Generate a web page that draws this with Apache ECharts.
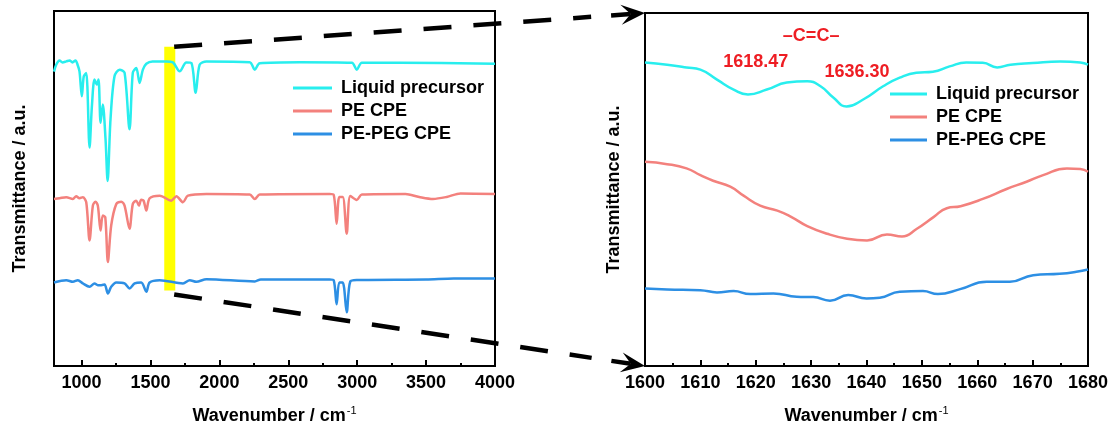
<!DOCTYPE html>
<html>
<head>
<meta charset="utf-8">
<script src="https://cdn.jsdelivr.net/npm/echarts@6/dist/echarts.min.js"></script>
<style>
html,body{margin:0;padding:0;background:#fff;}
#chart{width:1113px;height:430px;}
</style>
</head>
<body>
<div id="chart"></div>
<script>
// ---------- DATA ----------
const seriesNames = ['Liquid precursor', 'PE CPE', 'PE-PEG CPE'];

// Left panel (full spectrum), offset transmittance (a.u.)
const leftCyanX = [800,816,840,862,889,913,934,956,971,985,1002,1016,1034,1058,1075,1094,1111,1123,1138,1154,1174,1189,1210,1239,1276,1312,1348,1372,1397,1421,1445,1470,1515,1615,1663,1712,1760,1797,1828,1857,1906,2220,2257,2293,2584,2961,2997,3034,3310,4000];
const leftCyanY = [296,303,307.3,305.3,306.3,307.3,305.3,307.3,303,296.3,271.3,291.3,294.7,219.7,261.3,288,283,288,244.7,263,228,186,248,291.3,298,295,238,295,299.7,284.7,298,304,306.3,306.3,305.3,296.3,305.3,304.7,274.7,303,306.3,305.5,298,304.5,305.5,305,298,305,305,304];

const leftRedX = [800,840,889,937,961,985,1009,1034,1058,1082,1101,1118,1138,1154,1172,1191,1215,1252,1288,1312,1348,1372,1397,1416,1433,1450,1470,1494,1567,1651,1688,1736,1772,1906,2220,2257,2293,2800,2830,2851,2870,2895,2924,2950,2997,3034,3350,3450,3550,3650,3750,4000];
const leftRedY = [168,168.7,169.7,168,170.7,168.7,169.7,164.7,126.3,161.3,165.3,161.3,136.3,151.3,149.7,104.7,141.3,163,165.3,161.3,138,163,166.3,161.3,167.3,166.3,156.3,168.7,171.3,166.3,170.7,164.7,171.3,173,172.5,168,172.5,173,172,143,170,170,133,171,167,172.5,173,170,168,170,173.5,173];

const leftBlueX = [800,889,937,973,1009,1058,1094,1118,1143,1167,1191,1215,1252,1312,1348,1385,1433,1470,1494,1567,1736,1785,1833,1906,2257,2300,2800,2830,2851,2870,2895,2924,2950,3000,3500,3700,4000];
const leftBlueY = [84,86.3,84.7,86.3,83,79.7,83,81.3,81.3,82,73,79.7,84,83,78,83,84,74.7,84,86.3,83,86.3,84.7,87.3,85,87,87,86,62,84,84,54,85,86.5,87,88,88];

// Zoomed region (highlighted band)
const zoomBand = {from: 1600, to: 1680, low: 76, high: 321};

// Right panel (1600-1680 cm-1)
const rightCyanX = [1600,1604,1607.5,1610,1613,1616,1618.6,1622,1625.6,1629.3,1631.7,1634,1636.4,1639.4,1643,1646,1649,1652,1655,1658,1661,1663.6,1666,1670,1675,1678.6,1680];
const rightCyanY = [305.3,303,300.3,298,288,278,273,278,285,286.3,281.3,270,261,268,281.3,290,295,296,301.3,305.3,305,300.3,303,304.7,306.3,305.3,303];

const rightRedX = [1600,1604,1607.5,1610,1612.3,1615.4,1617.8,1620.8,1623.9,1626.3,1629.3,1632.9,1636.5,1640.1,1643.7,1646.4,1649.1,1652.1,1654.5,1657,1661,1665.3,1668.9,1671.9,1676.2,1678.6,1680];
const rightRedY = [205.3,203,198.7,192,186.3,180.3,171.3,161.3,156.3,150.3,140.7,133,128,126.3,132.3,130.3,138,149.7,158.7,160.7,168,178,185.3,192,198.7,198,195.3];

const rightBlueX = [1600,1604,1610,1613,1616,1619,1623.2,1627.4,1630.4,1633.4,1636.7,1640,1642.4,1646,1650.2,1652.9,1656.9,1661.7,1665.9,1670.1,1674.9,1677.9,1680];
const rightBlueY = [78,77,76.3,74,75.3,72.3,73,69.7,69.3,65.7,71.3,68,68.7,74.7,75.3,72.3,77.3,84.7,84.7,91.3,92.7,94.7,97];

const leftMajorTicks = [1000,1500,2000,2500,3000,3500,4000];
const leftMinorTicks = [1250,1750,2250,2750,3250,3750];
const rightTickInterval = 10;

const annotations = [
  {text: '\u2013C=C\u2013', x: 1630, y: 332},
  {text: '1618.47', x: 1620.0, y: 305.5},
  {text: '1636.30', x: 1638.3, y: 295.5}
];

// ---------- STYLE ----------
const colors = ['#28eeee', '#f3817d', '#2d8fe4'];
const FONT = '"Liberation Sans", Arial, Helvetica, sans-serif';
const zip = (xs, ys) => xs.map((x, i) => [x, ys[i]]);

const chart = echarts.init(document.getElementById('chart'), null, {renderer: 'canvas'});

const axisNameX = {
  name: '{a|Wavenumber / cm}{b|-1}',
  nameLocation: 'middle',
  nameGap: 39,
  nameTextStyle: {
    rich: {
      a: {fontSize: 18, fontWeight: 'bold', fontFamily: FONT, color: '#000', lineHeight: 22},
      b: {fontSize: 11, fontFamily: FONT, color: '#000', verticalAlign: 'top', lineHeight: 12, padding: [0,0,0,1]}
    }
  }
};
const tickLabel = {fontSize: 18, fontWeight: 'bold', fontFamily: FONT, color: '#000', margin: 8, formatter: v => String(v)};
const yName = {
  name: 'Transmittance / a.u.',
  nameLocation: 'middle',
  nameTextStyle: {fontSize: 18, fontWeight: 'bold', fontFamily: FONT, color: '#000'}
};

function lineSeries(name, data, idx, xi, yi, sm) {
  return {
    name, type: 'line', data, xAxisIndex: xi, yAxisIndex: yi,
    symbol: 'none', showSymbol: false, smooth: sm,
    lineStyle: {color: colors[idx], width: 2.5},
    itemStyle: {color: colors[idx]},
    z: 3, animation: false
  };
}

const legendCommon = {
  orient: 'vertical', itemWidth: 39, itemHeight: 3, itemGap: 3, padding: 0,
  icon: 'rect',
  textStyle: {fontSize: 18, fontWeight: 'bold', fontFamily: FONT, color: '#000', lineHeight: 20, padding: [0,0,0,4]},
  data: seriesNames, selectedMode: false
};

chart.setOption({
  backgroundColor: '#fff',
  animation: false,
  grid: [
    {left: 54, right: 618, top: 11, bottom: 62, show: true, borderColor: '#000', borderWidth: 2, backgroundColor: 'transparent'},
    {left: 645, right: 25, top: 13, bottom: 62, show: true, borderColor: '#000', borderWidth: 2, backgroundColor: 'transparent'}
  ],
  legend: [
    Object.assign({left: 293, top: 78}, legendCommon),
    Object.assign({left: 890, top: 84}, legendCommon, {itemWidth: 37})
  ],
  xAxis: [
    Object.assign({
      type: 'value', gridIndex: 0, min: 800, max: 4000,
      axisLine: {lineStyle: {color: '#000', width: 2}},
      axisTick: {inside: true, length: 6, lineStyle: {color: '#000', width: 2}, customValues: leftMajorTicks},
      axisLabel: Object.assign({customValues: leftMajorTicks}, tickLabel),
      splitLine: {show: false}
    }, axisNameX),
    {
      type: 'value', gridIndex: 0, min: 800, max: 4000, position: 'bottom',
      axisLine: {show: false},
      axisTick: {inside: true, length: 3, lineStyle: {color: '#000', width: 2}, customValues: leftMinorTicks},
      axisLabel: {show: false, customValues: leftMinorTicks},
      splitLine: {show: false}
    },
    Object.assign({
      type: 'value', gridIndex: 1, min: 1600, max: 1680, interval: rightTickInterval,
      axisLine: {lineStyle: {color: '#000', width: 2}},
      axisTick: {inside: true, length: 6, lineStyle: {color: '#000', width: 2}},
      minorTick: {show: true, splitNumber: 2, length: 3, lineStyle: {color: '#000', width: 2}},
      axisLabel: tickLabel,
      splitLine: {show: false}
    }, axisNameX)
  ],
  yAxis: [
    Object.assign({
      type: 'value', gridIndex: 0, min: 0, max: 357,
      axisLine: {show: true, lineStyle: {color: '#000', width: 2}},
      axisTick: {show: false}, axisLabel: {show: false}, splitLine: {show: false},
      nameGap: 25
    }, yName),
    Object.assign({
      type: 'value', gridIndex: 1, min: 0, max: 355,
      axisLine: {show: true, lineStyle: {color: '#000', width: 2}},
      axisTick: {show: false}, axisLabel: {show: false}, splitLine: {show: false},
      nameGap: 22
    }, yName)
  ],
  series: [
    {
      name: 'band', type: 'line', data: [], xAxisIndex: 0, yAxisIndex: 0, z: 1,
      markArea: {
        silent: true,
        itemStyle: {color: '#ffff00', opacity: 1},
        data: [[{coord: [zoomBand.from, zoomBand.low]}, {coord: [zoomBand.to, zoomBand.high]}]]
      }
    },
    lineSeries(seriesNames[0], zip(leftCyanX, leftCyanY), 0, 0, 0, 0.3),
    lineSeries(seriesNames[1], zip(leftRedX, leftRedY), 1, 0, 0, 0.3),
    lineSeries(seriesNames[2], zip(leftBlueX, leftBlueY), 2, 0, 0, 0.3),
    lineSeries(seriesNames[0], zip(rightCyanX, rightCyanY), 0, 2, 1, 0.5),
    lineSeries(seriesNames[1], zip(rightRedX, rightRedY), 1, 2, 1, 0.5),
    lineSeries(seriesNames[2], zip(rightBlueX, rightBlueY), 2, 2, 1, 0.5)
  ]
});

// ---------- Decorations: dashed connectors & annotations ----------
const toL = v => chart.convertToPixel({xAxisIndex: 0, yAxisIndex: 0}, v);
const toR = v => chart.convertToPixel({xAxisIndex: 2, yAxisIndex: 1}, v);

function connector(p0, p1) {
  const dx = p1[0] - p0[0], dy = p1[1] - p0[1];
  const len = Math.hypot(dx, dy);
  const ux = dx / len, uy = dy / len, px = -uy, py = ux;
  const L = 24, W = 10;
  const shaftStart = [p1[0] - ux * 34, p1[1] - uy * 34];
  const headBase = [p1[0] - ux * (L * 0.6), p1[1] - uy * (L * 0.6)];
  return [
    {type: 'line', z: 50, shape: {x1: p0[0], y1: p0[1], x2: shaftStart[0] - ux * 20, y2: shaftStart[1] - uy * 20},
     style: {stroke: '#000', lineWidth: 4.5, lineDash: [28, 22]}},
    {type: 'line', z: 50, shape: {x1: shaftStart[0], y1: shaftStart[1], x2: headBase[0], y2: headBase[1]},
     style: {stroke: '#000', lineWidth: 4.5}},
    {type: 'polygon', z: 51, shape: {points: [
      [p1[0], p1[1]],
      [p1[0] - ux * L + px * W, p1[1] - uy * L + py * W],
      headBase,
      [p1[0] - ux * L - px * W, p1[1] - uy * L - py * W]
    ]}, style: {fill: '#000'}}
  ];
}

const rightMinY = 0, rightMaxY = 355;
const graphics = []
  .concat(connector(toL([zoomBand.to - 8, zoomBand.high]), toR([1600, rightMaxY])))
  .concat(connector((p => [p[0], p[1] + 4])(toL([zoomBand.to - 8, zoomBand.low])), toR([1600, rightMinY])));

annotations.forEach(a => {
  const p = toR([a.x, a.y]);
  graphics.push({
    type: 'text', z: 60, x: p[0], y: p[1],
    style: {text: a.text, fill: '#ee1d23', font: 'bold 18px ' + FONT, textAlign: 'center', textVerticalAlign: 'middle'}
  });
});

chart.setOption({graphic: graphics});
</script>
</body>
</html>
